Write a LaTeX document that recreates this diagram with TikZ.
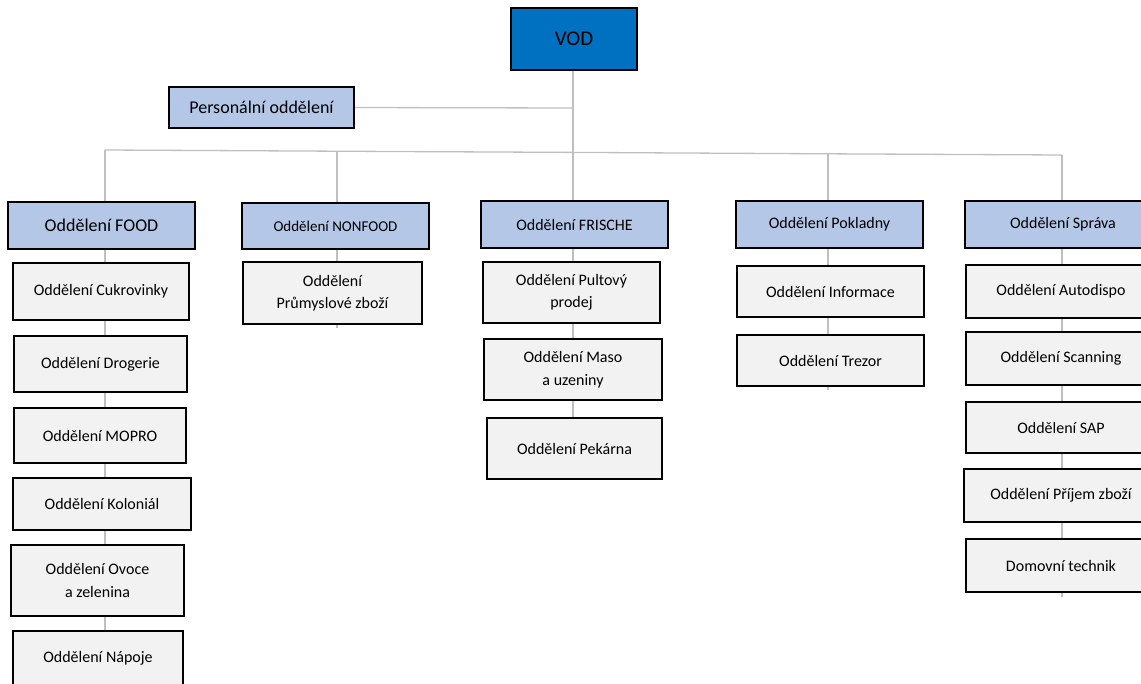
\documentclass[tikz,border=0pt]{standalone}
\usepackage{fontspec}
\setmainfont{Carlito}
\usetikzlibrary{backgrounds}
\definecolor{vodblue}{HTML}{0070C0}
\definecolor{lvlblue}{HTML}{B4C7E7}
\definecolor{subgray}{HTML}{F2F2F2}
\definecolor{conngray}{HTML}{BFBFBF}
\tikzset{
  box/.style={draw=black, line width=1.6pt, rectangle, inner sep=0pt, align=center},
  topbox/.style={box, fill=vodblue, font=\fontsize{21}{25}\selectfont},
  lvlbox/.style={box, fill=lvlblue, font=\fontsize{16}{20}\selectfont},
  subbox/.style={box, fill=subgray, font=\fontsize{16}{22.5}\selectfont},
  conn/.style={draw=conngray, line width=1.3pt},
  sz/.style 2 args={minimum width=#1, minimum height=#2}
}
\begin{document}
\begin{tikzpicture}[x=1pt,y=-1pt]
\useasboundingbox (0,0) rectangle (1141,683);
% top
\node[topbox, sz={126pt}{62pt}] (vod) at (574,39) {VOD};
\node[lvlbox, sz={185pt}{41pt}, font=\fontsize{18}{22}\selectfont] (pers) at (261.5,107.5) {Personální oddělení};
% level 1
\node[lvlbox, sz={187pt}{47pt}, font=\fontsize{18}{22}\selectfont] (food) at (101.5,225.5) {Oddělení FOOD};
\node[lvlbox, sz={187pt}{46pt}, font=\fontsize{15}{19}\selectfont] (nonfood) at (335.5,226) {Oddělení NONFOOD};
\node[lvlbox, sz={187pt}{47pt}] (frische) at (574.5,224.5) {Oddělení FRISCHE};
\node[lvlbox, sz={187pt}{47pt}] (pokl) at (829.5,224.5) {Oddělení Pokladny};
\node[lvlbox, sz={196pt}{47pt}] (sprava) at (1063,224.5) {Oddělení Správa};
% FOOD column
\node[subbox, sz={176pt}{57pt}] (cukr) at (101,291.5) {Oddělení Cukrovinky};
\node[subbox, sz={173pt}{56pt}] (drog) at (100.5,364) {Oddělení Drogerie};
\node[subbox, sz={172pt}{55pt}] (mopro) at (100,435.5) {Oddělení MOPRO};
\node[subbox, sz={178pt}{52pt}] (kolon) at (102,504) {Oddělení Koloniál};
\node[subbox, sz={173pt}{71pt}] (ovoce) at (97.5,580.5) {Oddělení Ovoce\\a zelenina};
\node[subbox, sz={170pt}{55pt}] (napoje) at (98,658.5) {Oddělení Nápoje};
% NONFOOD column
\node[subbox, sz={179pt}{62pt}] (prum) at (332.5,293) {Oddělení\\Průmyslové zboží};
% FRISCHE column
\node[subbox, sz={177pt}{61pt}] (pult) at (571.5,292.5) {Oddělení Pultový\\prodej};
\node[subbox, sz={178pt}{61pt}] (maso) at (573,369.5) {Oddělení Maso\\a uzeniny};
\node[subbox, sz={175pt}{61pt}] (pekarna) at (574.5,448.5) {Oddělení Pekárna};
% Pokladny column
\node[subbox, sz={187pt}{51pt}] (info) at (830.5,291.5) {Oddělení Informace};
\node[subbox, sz={187pt}{51pt}] (trezor) at (830.5,360.5) {Oddělení Trezor};
% Sprava column
\node[subbox, sz={190pt}{53pt}] (auto) at (1061,291.5) {Oddělení Autodispo};
\node[subbox, sz={190pt}{53pt}] (scan) at (1061,358.5) {Oddělení Scanning};
\node[subbox, sz={190pt}{51pt}] (sap) at (1061,427.5) {Oddělení SAP};
\node[subbox, sz={194pt}{53pt}] (prijem) at (1061,495.5) {Oddělení Příjem zboží};
\node[subbox, sz={190pt}{53pt}] (domov) at (1061,565.5) {Domovní technik};
% bus coordinates
\coordinate (bF) at (105,150);
\coordinate (bN) at (337,151.2);
\coordinate (bV) at (573,152.4);
\coordinate (bP) at (828,153.8);
\coordinate (bS) at (1062,155);
\coordinate (pj) at (573,108);
\coordinate (tN) at (337,328);
\coordinate (tP) at (828,390);
\coordinate (tS) at (1062,597);
\begin{scope}[on background layer]
  \draw[conn] (vod.south -| bV) -- (bV);
  \draw[conn] (pers.east) -- (pj);
  \draw[conn] (bF) -- (bN) -- (bV) -- (bP) -- (bS);
  \draw[conn] (bF) -- (bF |- napoje.center);
  \draw[conn] (bN) -- (tN);
  \draw[conn] (bV) -- (bV |- pekarna.center);
  \draw[conn] (bP) -- (tP);
  \draw[conn] (bS) -- (tS);
\end{scope}
\end{tikzpicture}
\end{document}
